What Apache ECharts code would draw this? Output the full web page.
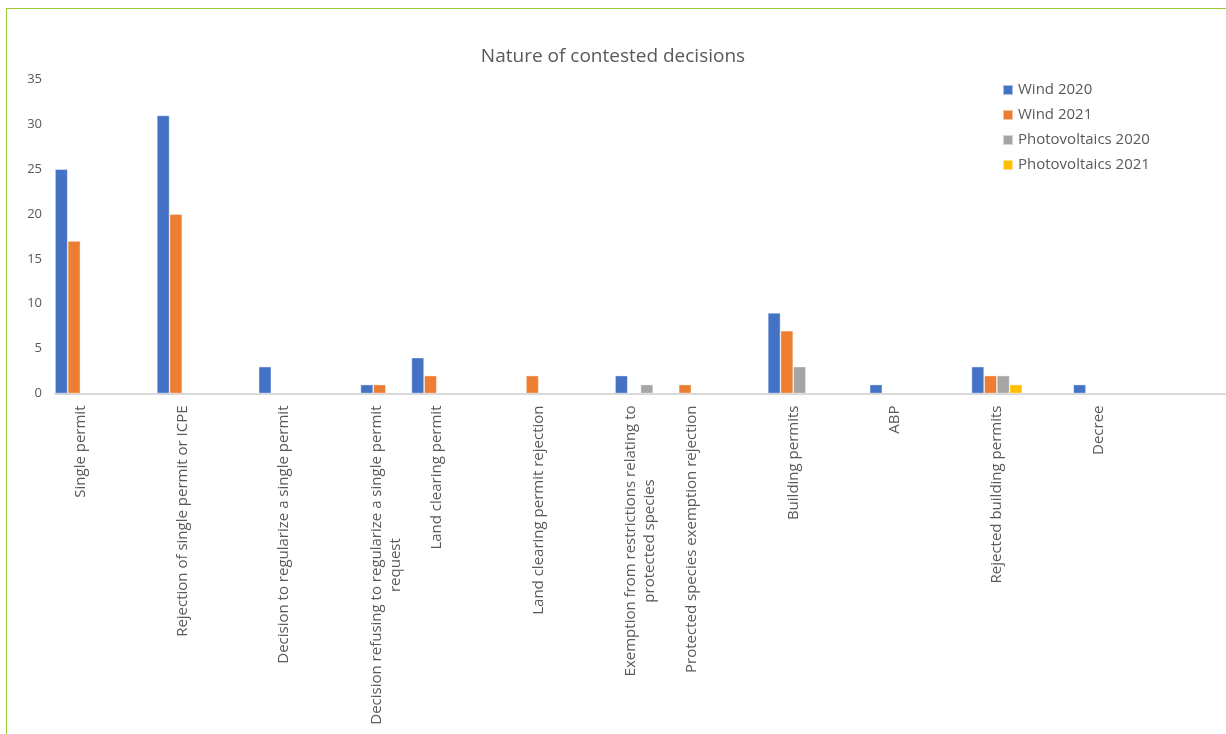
<!DOCTYPE html>
<html>
<head>
<meta charset="utf-8">
<script src="https://cdn.jsdelivr.net/npm/echarts@6/dist/echarts.min.js"></script>
<style>
  html, body { margin: 0; padding: 0; background: #ffffff; overflow: hidden; }
  #frame {
    position: absolute; left: 6px; top: 8px; width: 1400px; height: 900px;
    border-left: 1px solid #9BCB34; border-top: 1px solid #9BCB34;
    box-sizing: border-box; pointer-events: none;
  }
  #chart { position: absolute; left: 0; top: 0; width: 1226px; height: 734px; }
</style>
</head>
<body>
<div id="chart"></div>
<div id="frame"></div>
<script>
// Axis slots: each decision type, with empty spacer slots between groups
const categories = [
  'Single permit', '',
  'Rejection of single permit or ICPE', '',
  'Decision to regularize a single permit', '',
  'Decision refusing to regularize a single permit\nrequest',
  'Land clearing permit', '',
  'Land clearing permit rejection', '',
  'Exemption from restrictions relating to\nprotected species',
  'Protected species exemption rejection', '',
  'Building permits', '',
  'ABP', '',
  'Rejected building permits', '',
  'Decree', '', ''
];

const seriesNames = ['Wind 2020', 'Wind 2021', 'Photovoltaics 2020', 'Photovoltaics 2021'];

const wind2020 = [25, null, 31, null, 3, null, 1, 4, null, null, null, 2, null, null, 9, null, 1, null, 3, null, 1, null, null];
const wind2021 = [17, null, 20, null, null, null, 1, 2, null, 2, null, null, 1, null, 7, null, null, null, 2, null, null, null, null];
const pv2020   = [null, null, null, null, null, null, null, null, null, null, null, 1, null, null, 3, null, null, null, 2, null, null, null, null];
const pv2021   = [null, null, null, null, null, null, null, null, null, null, null, null, null, null, null, null, null, null, 1, null, null, null, null];

const yTicks = { min: 0, max: 35, interval: 5 };

const colors = ['#4472C4', '#ED7D31', '#A5A5A5', '#FFC000'];
const textColor = '#595959';
const font = '"Open Sans", "Noto Sans", sans-serif';

const chart = echarts.init(document.getElementById('chart'), null, { renderer: 'canvas' });

const seriesData = [wind2020, wind2021, pv2020, pv2021];

chart.setOption({
  animation: false,
  color: colors,
  title: {
    text: 'Nature of contested decisions',
    left: 'center',
    top: 42,
    textStyle: { fontFamily: font, fontSize: 19, fontWeight: 'normal', color: textColor }
  },
  legend: {
    orient: 'vertical',
    left: 997,
    top: 76.5,
    icon: 'rect',
    itemWidth: 10,
    itemHeight: 10,
    itemGap: 8,
    data: seriesNames,
    textStyle: { fontFamily: font, fontSize: 15, color: textColor, lineHeight: 17 }
  },
  grid: { left: 55, right: 0, top: 79.5, bottom: 340.5, containLabel: false },
  xAxis: {
    type: 'category',
    data: categories,
    boundaryGap: true,
    axisLine: { show: true, lineStyle: { color: '#D9D9D9', width: 2 } },
    axisTick: { show: false },
    axisLabel: {
      interval: 0,
      rotate: 90,
      margin: 12,
      formatter: function (v) {
        if (!v) return '';
        return v.split('\n').map(function (s) { return '{c|' + s + '}'; }).join('\n');
      },
      rich: {
        c: { align: 'center', fontFamily: font, fontSize: 15, color: textColor, lineHeight: 19 }
      }
    }
  },
  yAxis: {
    type: 'value',
    min: yTicks.min,
    max: yTicks.max,
    interval: yTicks.interval,
    axisLine: { show: false },
    axisTick: { show: false },
    splitLine: { show: false },
    axisLabel: { fontFamily: font, fontSize: 13, color: textColor, margin: 13 }
  },
  series: seriesNames.map(function (name, i) {
    return {
      name: name,
      type: 'bar',
      data: seriesData[i],
      barGap: '0%',
      barCategoryGap: '0%',
      itemStyle: { borderColor: 'rgba(255,255,255,0.55)', borderWidth: 0.75 }
    };
  })
});
</script>
</body>
</html>
